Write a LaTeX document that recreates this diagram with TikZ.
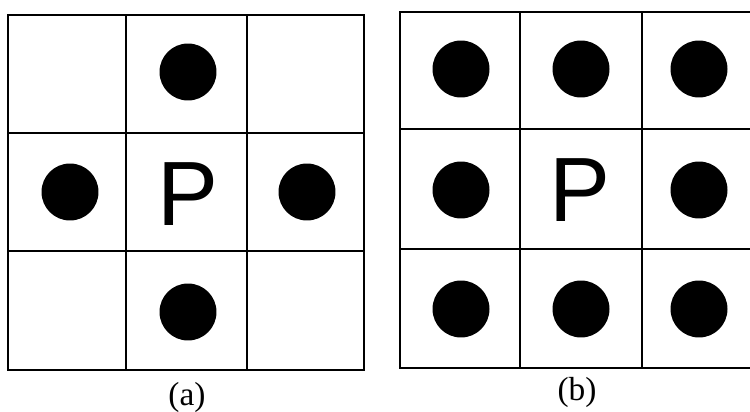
\documentclass[tikz,border=0pt]{standalone}
\usepackage{fontspec}
\setmainfont{Liberation Serif}
\setsansfont{Liberation Sans}
\usetikzlibrary{positioning}
\tikzset{
  gridline/.style={line width=1.5pt,line cap=rect},
  dot/.style={circle,fill=black,inner sep=0pt,minimum size=1.14cm},
  site/.style={font=\sffamily\fontsize{52}{52}\selectfont,inner sep=0pt},
  caption/.style={font=\fontsize{19}{19}\selectfont,inner sep=0pt}
}
\begin{document}
\begin{tikzpicture}[x=0.02cm,y=-0.02cm]
\useasboundingbox (0,0) rectangle (750,412);
\clip (0,0) rectangle (750,412);
% grid (a): 4-neighbourhood
\draw[gridline] (8,15) rectangle (364,370);
\draw[gridline] (126,15) -- (126,370) (247,15) -- (247,370)
                (8,133) -- (364,133) (8,251) -- (364,251);
\node[site] (pa) at (188,194) {P};
\node[dot] (na) at (188,72) {};
\node[dot] (wa) at (70,192) {};
\node[dot] (ea) at (307,192) {};
\node[dot] (sa) at (188,312) {};
\node[caption] (capa) at (187,397) {(a)};
% grid (b): 8-neighbourhood
\draw[gridline] (400,12) rectangle (763,368);
\draw[gridline] (520,12) -- (520,368) (642,12) -- (642,368)
                (400,129) -- (763,129) (400,249) -- (763,249);
\node[site] (pb) at (580,190) {P};
\foreach \r/\y in {1/69,2/190,3/309}{
  \node[dot] (b\r1) at (461,\y) {};
  \node[dot] (b\r3) at (699,\y) {};
}
\node[dot] (b12) at (581,69) {};
\node[dot] (b32) at (581,309) {};
\node[caption] (capb) at (577,392) {(b)};
\end{tikzpicture}
\end{document}
